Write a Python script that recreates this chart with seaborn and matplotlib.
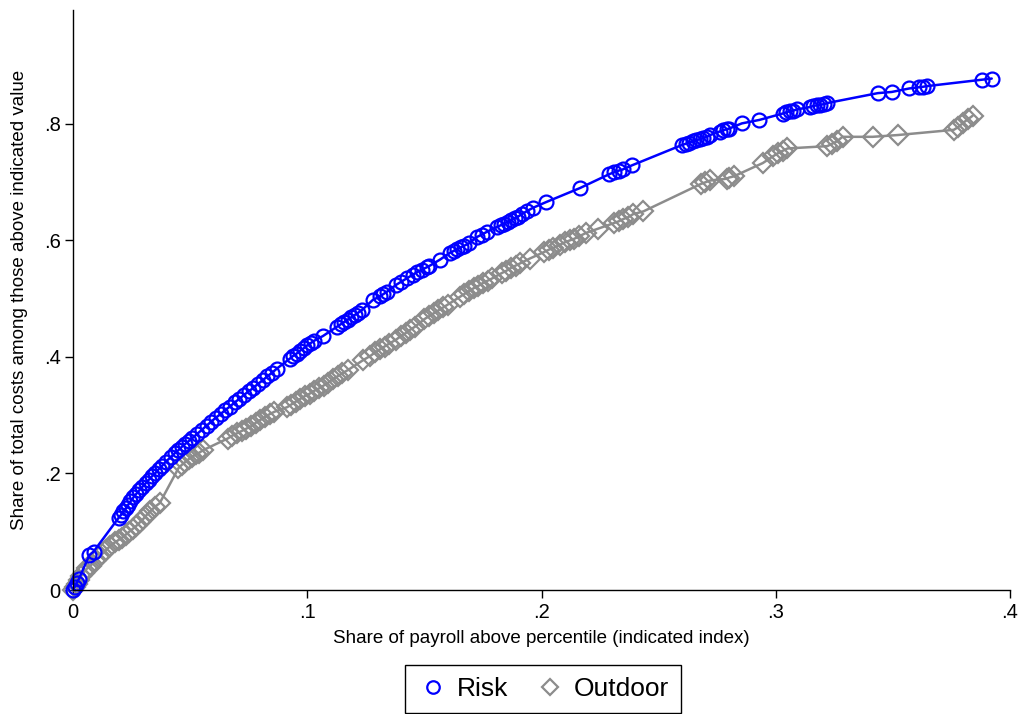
import matplotlib
matplotlib.use("Agg")
import matplotlib.pyplot as plt
import seaborn as sns
import pandas as pd
from matplotlib.lines import Line2D

# ---- data ----
risk_x = [0.0000, 0.0008, 0.0016, 0.0025, 0.0070, 0.0088,
          0.0195, 0.0205, 0.0215, 0.0225, 0.0235, 0.0245, 0.0258, 0.0270, 0.0283, 0.0296,
          0.0310, 0.0323, 0.0337, 0.0350, 0.0365, 0.0380, 0.0395, 0.0420, 0.0435, 0.0450,
          0.0465, 0.0480, 0.0495, 0.0510, 0.0530, 0.0550, 0.0570, 0.0590, 0.0610, 0.0630,
          0.0650, 0.0670, 0.0690, 0.0710, 0.0730, 0.0750, 0.0770, 0.0790, 0.0810, 0.0830,
          0.0850, 0.0870, 0.0925, 0.0940, 0.0955, 0.0970, 0.0985, 0.1000, 0.1015, 0.1030,
          0.1067, 0.1127, 0.1142, 0.1157, 0.1172, 0.1187, 0.1202, 0.1217, 0.1232, 0.1280,
          0.1310, 0.1325, 0.1340, 0.1380, 0.1400, 0.1425, 0.1450, 0.1470, 0.1490, 0.1510,
          0.1520, 0.1566, 0.1610, 0.1625, 0.1640, 0.1655, 0.1670, 0.1690, 0.1724, 0.1745,
          0.1767, 0.1810, 0.1825, 0.1840, 0.1855, 0.1870, 0.1885, 0.1900, 0.1915, 0.1940,
          0.1963, 0.2020, 0.2164, 0.2290, 0.2310, 0.2330, 0.2347, 0.2386, 0.2600, 0.2615,
          0.2630, 0.2645, 0.2660, 0.2675, 0.2690, 0.2706, 0.2720, 0.2760, 0.2775, 0.2790,
          0.2800, 0.2855, 0.2930, 0.3030, 0.3045, 0.3060, 0.3075, 0.3090, 0.3145, 0.3160,
          0.3175, 0.3190, 0.3205, 0.3220, 0.3436, 0.3495, 0.3570, 0.3610, 0.3630, 0.3645,
          0.3880, 0.3922]
risk_y = [0.000, 0.006, 0.012, 0.019, 0.060, 0.066,
          0.124, 0.129, 0.135, 0.140, 0.146, 0.152, 0.159, 0.165, 0.171, 0.177,
          0.183, 0.189, 0.195, 0.200, 0.207, 0.213, 0.220, 0.229, 0.235, 0.240,
          0.246, 0.251, 0.256, 0.261, 0.268, 0.275, 0.282, 0.289, 0.296, 0.302,
          0.309, 0.315, 0.322, 0.328, 0.335, 0.341, 0.347, 0.354, 0.360, 0.367,
          0.373, 0.380, 0.397, 0.402, 0.406, 0.411, 0.415, 0.420, 0.424, 0.428,
          0.436, 0.452, 0.456, 0.460, 0.464, 0.468, 0.472, 0.476, 0.480, 0.498,
          0.504, 0.508, 0.512, 0.524, 0.529, 0.535, 0.541, 0.546, 0.550, 0.554,
          0.556, 0.567, 0.579, 0.582, 0.585, 0.588, 0.591, 0.595, 0.606, 0.610,
          0.615, 0.623, 0.626, 0.629, 0.632, 0.635, 0.638, 0.641, 0.645, 0.651,
          0.656, 0.666, 0.690, 0.714, 0.717, 0.720, 0.722, 0.729, 0.764, 0.766,
          0.768, 0.770, 0.772, 0.774, 0.776, 0.778, 0.781, 0.787, 0.789, 0.791,
          0.792, 0.801, 0.807, 0.818, 0.820, 0.822, 0.823, 0.825, 0.829, 0.831,
          0.832, 0.833, 0.834, 0.836, 0.853, 0.855, 0.861, 0.863, 0.864, 0.865,
          0.876, 0.878]

outdoor_x = [0.0000, 0.0008, 0.0016, 0.0025, 0.0035, 0.0045, 0.0060, 0.0075, 0.0095, 0.0110,
             0.0125, 0.0140, 0.0160, 0.0180, 0.0195, 0.0210, 0.0225, 0.0240, 0.0255, 0.0270,
             0.0285, 0.0300, 0.0315, 0.0330, 0.0350, 0.0370, 0.0450, 0.0465, 0.0480, 0.0495,
             0.0510, 0.0525, 0.0540, 0.0555, 0.0660, 0.0680, 0.0700, 0.0720, 0.0740, 0.0760,
             0.0780, 0.0800, 0.0820, 0.0840, 0.0860, 0.0915, 0.0930, 0.0950, 0.0970, 0.0990,
             0.1010, 0.1030, 0.1050, 0.1070, 0.1090, 0.1110, 0.1130, 0.1150, 0.1175, 0.1240,
             0.1270, 0.1290, 0.1310, 0.1330, 0.1350, 0.1380, 0.1400, 0.1420, 0.1440, 0.1460,
             0.1500, 0.1520, 0.1540, 0.1560, 0.1580, 0.1600, 0.1650, 0.1670, 0.1690, 0.1710,
             0.1730, 0.1750, 0.1770, 0.1790, 0.1830, 0.1850, 0.1870, 0.1890, 0.1910, 0.1950,
             0.2010, 0.2030, 0.2050, 0.2080, 0.2100, 0.2120, 0.2140, 0.2160, 0.2190, 0.2240,
             0.2310, 0.2330, 0.2350, 0.2370, 0.2390, 0.2435, 0.2680, 0.2700, 0.2720, 0.2790,
             0.2800, 0.2820, 0.2945, 0.2990, 0.3010, 0.3030, 0.3050, 0.3220, 0.3240, 0.3260,
             0.3285, 0.3414, 0.3520, 0.3760, 0.3780, 0.3800, 0.3820, 0.3840]
outdoor_y = [0.000, 0.005, 0.010, 0.017, 0.024, 0.030, 0.037, 0.042, 0.050, 0.056,
             0.062, 0.068, 0.076, 0.082, 0.086, 0.090, 0.095, 0.100, 0.105, 0.110,
             0.116, 0.122, 0.129, 0.135, 0.143, 0.149, 0.209, 0.215, 0.220, 0.225,
             0.229, 0.233, 0.236, 0.240, 0.260, 0.265, 0.269, 0.273, 0.277, 0.281,
             0.287, 0.292, 0.297, 0.302, 0.306, 0.314, 0.318, 0.323, 0.328, 0.333,
             0.337, 0.342, 0.346, 0.351, 0.356, 0.362, 0.367, 0.372, 0.378, 0.395,
             0.402, 0.408, 0.413, 0.418, 0.423, 0.430, 0.436, 0.441, 0.447, 0.452,
             0.465, 0.470, 0.475, 0.480, 0.485, 0.490, 0.503, 0.508, 0.513, 0.518,
             0.522, 0.527, 0.531, 0.535, 0.544, 0.548, 0.553, 0.557, 0.561, 0.569,
             0.580, 0.584, 0.587, 0.593, 0.597, 0.600, 0.603, 0.607, 0.613, 0.620,
             0.630, 0.633, 0.637, 0.640, 0.645, 0.650, 0.697, 0.700, 0.703, 0.706,
             0.708, 0.710, 0.733, 0.745, 0.750, 0.754, 0.758, 0.762, 0.766, 0.770,
             0.778, 0.778, 0.781, 0.790, 0.795, 0.802, 0.808, 0.814]

x_ticks = [0, 0.1, 0.2, 0.3, 0.4]
x_tick_labels = ["0", ".1", ".2", ".3", ".4"]
y_ticks = [0, 0.2, 0.4, 0.6, 0.8]
y_tick_labels = ["0", ".2", ".4", ".6", ".8"]

series_names = ["Risk", "Outdoor"]
BLUE = "#0000ff"
GRAY = "#8c8c8c"

# ---- plotting ----
sns.set_style("white")
plt.rcParams["font.family"] = ["Liberation Sans", "DejaVu Sans"]
plt.rcParams["text.color"] = "black"
plt.rcParams["axes.labelcolor"] = "black"

W, H = 1021, 714
fig = plt.figure(figsize=(W / 100, H / 100), dpi=100)
ax = fig.add_axes([73 / W, (H - 590) / H, (1010 - 73) / W, (590 - 10) / H])

df_r = pd.DataFrame({"x": risk_x, "y": risk_y})
df_o = pd.DataFrame({"x": outdoor_x, "y": outdoor_y})

sns.lineplot(data=df_o, x="x", y="y", ax=ax, sort=False, estimator=None,
             color=GRAY, linewidth=1.8, marker="D", markersize=10,
             markerfacecolor="none", markeredgecolor=GRAY, markeredgewidth=1.6,
             clip_on=False)
sns.lineplot(data=df_r, x="x", y="y", ax=ax, sort=False, estimator=None,
             color=BLUE, linewidth=1.8, marker="o", markersize=10,
             markerfacecolor="none", markeredgecolor=BLUE, markeredgewidth=1.6,
             clip_on=False)

ax.set_xlim(0, 0.4)
ax.set_ylim(0, 0.9957)
ax.set_xticks(x_ticks)
ax.set_xticklabels(x_tick_labels)
ax.set_yticks(y_ticks)
ax.set_yticklabels(y_tick_labels)
ax.tick_params(axis="both", which="major", direction="out", length=6, width=1,
               labelsize=14.5, color="black", labelcolor="black", pad=3,
               bottom=True, left=True)

for s in ["top", "right"]:
    ax.spines[s].set_visible(False)
for s in ["left", "bottom"]:
    ax.spines[s].set_visible(True)
    ax.spines[s].set_color("black")
    ax.spines[s].set_linewidth(1.0)

ax.set_xlabel("Share of payroll above percentile (indicated index)", fontsize=13.5,
              labelpad=6, color="black")
ax.set_ylabel("Share of total costs among those above indicated value", fontsize=13.5,
              labelpad=11, color="black")
ax.grid(False)

handles = [
    Line2D([], [], linestyle="none", marker="o", markersize=9, markerfacecolor="none",
           markeredgecolor=BLUE, markeredgewidth=1.6),
    Line2D([], [], linestyle="none", marker="D", markersize=8.5, markerfacecolor="none",
           markeredgecolor=GRAY, markeredgewidth=1.6),
]
leg = fig.legend(handles, series_names, loc="upper center",
                 bbox_to_anchor=(543 / W, (H - 665) / H), ncol=2, fontsize=19,
                 frameon=True, fancybox=False, edgecolor="black", framealpha=1,
                 handletextpad=0.3, columnspacing=1.0, borderpad=0.45,
                 borderaxespad=0.0, handlelength=1.2, labelcolor="black")
leg.get_frame().set_linewidth(1.0)

fig.savefig("out.png", dpi=100, facecolor="white")
